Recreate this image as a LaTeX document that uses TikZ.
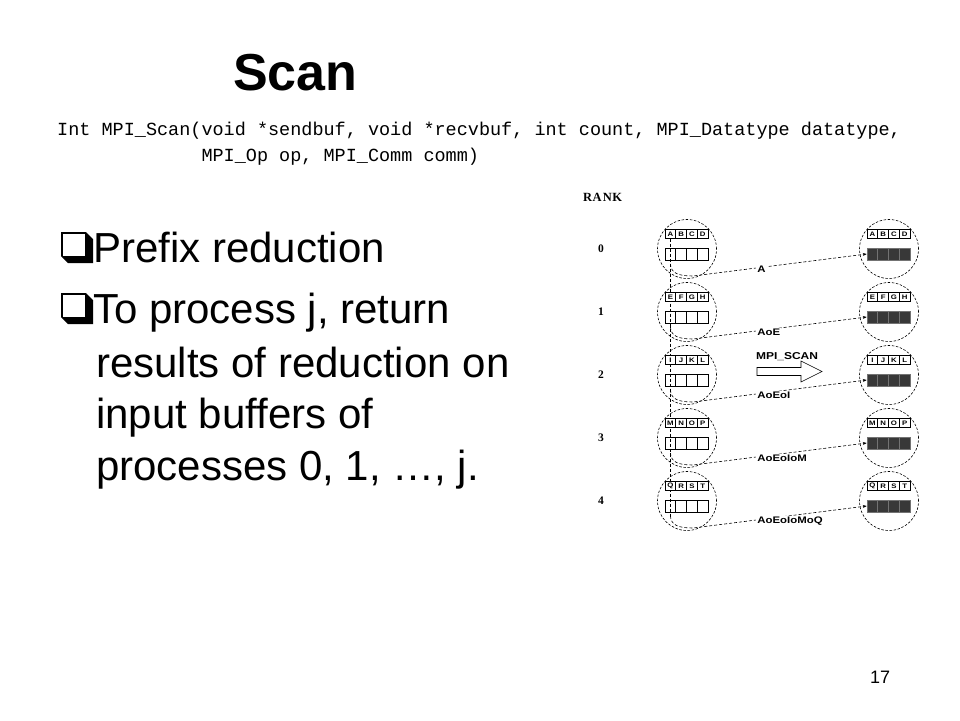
\documentclass[tikz,border=0pt]{standalone}
\usepackage{fontspec}
\setmainfont{Liberation Sans}
\newfontfamily\monofont{Liberation Mono}
\newfontfamily\seriffont{Liberation Serif}
\newfontfamily\diagfont[FakeStretch=1.2]{Liberation Sans}
\usetikzlibrary{arrows.meta,backgrounds}
\begin{document}
\begin{tikzpicture}[x=1pt,y=-1pt,
  txt/.style={anchor=base west, inner sep=0pt},
  body/.style={txt, font=\fontsize{42}{50}\selectfont},
  codefont/.style={txt, font=\monofont\fontsize{18.5}{26}\selectfont},
  proc/.style={circle, draw, line width=0.6pt, dash pattern=on 2.5pt off 1.6pt, minimum size=59pt, inner sep=0pt},
  ucell/.style={rectangle, draw, fill=white, line width=0.6pt, minimum width=10.75pt, minimum height=8.5pt, inner sep=0pt, font=\diagfont\bfseries\fontsize{6.5}{6.5}\selectfont},
  lcell/.style={rectangle, draw, line width=0.6pt, minimum width=10.75pt, minimum height=12pt, inner sep=0pt},
  dcell/.style={lcell, fill=black!78, draw=black!55},
  conn/.style={line width=0.6pt, dash pattern=on 3pt off 2pt},
  lbl/.style={font=\diagfont\bfseries\fontsize{9.5}{10}\selectfont, fill=white, inner sep=1.2pt, anchor=west},
  ranknum/.style={font=\seriffont\bfseries\fontsize{11.5}{12}\selectfont, inner sep=0pt},
  bulletbox/.style={fill=black}
]
\useasboundingbox (0,0) rectangle (960,720);

% title and prototype
\node[txt, font=\bfseries\fontsize{52}{52}\selectfont] (title) at (233,90) {Scan};
\node[codefont] (proto1) at (57,135)
  {Int MPI\_Scan(void *sendbuf, void *recvbuf, int count, MPI\_Datatype datatype,};
\node[codefont] (proto2) at (57,161)
  {\hphantom{Int MPI\_Scan(}MPI\_Op op, MPI\_Comm comm)};

% bullets
\foreach \by in {232,293}{
  \fill[bulletbox] (61,\by) -- (86,\by) -- (93,\by+7) -- (93,\by+31) -- (68,\by+31) -- (61,\by+24) -- cycle;
  \fill[white] (63.2,\by+2.2) rectangle (85,\by+23.5);
}
\node[body] (b1) at (93,262) {Prefix reduction};
\node[body] (b2a) at (93,323) {To process j, return};
\node[body] (b2b) at (96,377) {results of reduction on};
\node[body] (b2c) at (96,428) {input buffers of};
\node[body] (b2d) at (96,480) {processes 0, 1, …, j.};

% page number
\node[txt, font=\fontsize{18}{18}\selectfont] (pg) at (870,683) {17};

% diagram
\node[txt, font=\seriffont\bfseries\fontsize{12.5}{12}\selectfont] (rank) at (583,201) {R\kern0.5pt A\kern1pt N\kern0.5pt K};

\foreach \i/\la/\lb/\lc/\ld in {0/A/B/C/D,1/E/F/G/H,2/I/J/K/L,3/M/N/O/P,4/Q/R/S/T}{
  \pgfmathsetmacro\cy{249+63*\i}
  \node[proc] (lc\i) at (687,\cy) {};
  \node[proc] (rc\i) at (889,\cy) {};
  \node[ranknum] (rk\i) at (601,\cy) {\i};
  \foreach \k/\ch in {0/\la,1/\lb,2/\lc,3/\ld}{
    \node[ucell] (lu\i-\k) at ({670.4+10.75*\k},\cy-15) {\ch};
    \node[ucell] (ru\i-\k) at ({872.4+10.75*\k},\cy-15) {\ch};
    \node[lcell] (ll\i-\k) at ({670.4+10.75*\k},\cy+5) {};
    \node[dcell] (rl\i-\k) at ({872.4+10.75*\k},\cy+5) {};
  }
  \coordinate (s\i) at (670.4,\cy+15);
}

% connectors behind the cells
\begin{scope}[on background layer]
  \draw[conn] (lu0-0.south) -- (s4);
  \foreach \i in {0,...,4}{
    \pgfmathsetmacro\cy{249+63*\i}
    \draw[conn, -{Stealth[length=4pt,width=3pt]}] (s\i) .. controls (671,\cy+24) and (678,\cy+27) .. (693,\cy+27) -- (rl\i-0.west);
  }
\end{scope}

% result labels
\foreach \i/\res in {0/A,1/AoE,2/AoEoI,3/AoEoIoM,4/AoEoIoMoQ}{
  \pgfmathsetmacro\cy{249+63*\i}
  \node[lbl] (res\i) at (756,\cy+20.5) {\res};
}

% MPI_SCAN hollow arrow
\node[font=\diagfont\bfseries\fontsize{10}{10}\selectfont, inner sep=0pt] (scanlbl) at (787,357) {MPI\_SCAN};
\draw[line width=0.6pt] (757,367.5) -- (801,367.5) -- (801,361) -- (822,371.5) -- (801,382) -- (801,375.5) -- (757,375.5) -- cycle;
\end{tikzpicture}
\end{document}
